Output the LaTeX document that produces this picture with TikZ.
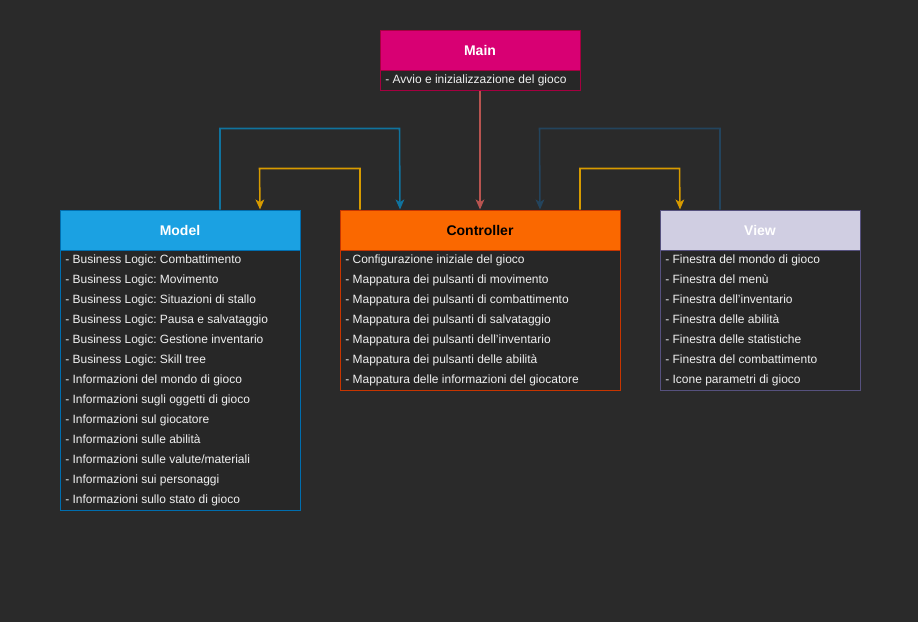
\documentclass[tikz,border=0pt]{standalone}
\usepackage{fontspec}
\setmainfont{Liberation Sans}
\usetikzlibrary{arrows.meta}
\frenchspacing
\definecolor{bg}{HTML}{2A2A2A}
\definecolor{bodyfill}{HTML}{272727}
\definecolor{txt}{HTML}{F0F0F0}
\definecolor{mainfill}{HTML}{D80073}
\definecolor{mainline}{HTML}{A50040}
\definecolor{modelfill}{HTML}{1BA1E2}
\definecolor{modelline}{HTML}{006EAF}
\definecolor{ctrlfill}{HTML}{FA6800}
\definecolor{ctrlline}{HTML}{C73500}
\definecolor{viewfill}{HTML}{D0CEE2}
\definecolor{viewline}{HTML}{56517E}
\definecolor{redline}{HTML}{B85450}
\definecolor{blueline}{HTML}{10739E}
\definecolor{darkblueline}{HTML}{23445D}
\definecolor{yellowline}{HTML}{D79B00}
\begin{document}
\begin{tikzpicture}[x=0.75pt,y=-0.75pt,
  header/.style={draw, line width=0.75pt, inner sep=0pt, anchor=north west, text=white,
    font=\fontsize{10.5}{12}\selectfont\bfseries},
  bodybox/.style={draw, line width=0.75pt, fill=bodyfill, inner sep=0pt, anchor=north west},
  rowtext/.style={anchor=west, inner sep=0pt, text height=8pt, text depth=2pt, text=txt,
    font=\fontsize{9}{11}\selectfont},
  conn/.style={line width=1.15pt, -{Stealth[length=7.5pt,width=6.5pt,inset=2pt]}}
]
\fill[bg] (0,0) rectangle (918,622);
\useasboundingbox (0,0) rectangle (918,622);
\begin{scope}[shift={(0.5,0.5)}]
% Main
\node[header, fill=mainfill, draw=mainline, minimum width=150pt, minimum height=30pt] (main) at (379,29) {Main};
\node[bodybox, draw=mainline, minimum width=150pt, minimum height=15pt] (mainb) at (379,69) {};
\node[rowtext] (main1) at (384.5,78.5) {- Avvio e inizializzazione del gioco};

% Model
\node[header, fill=modelfill, draw=modelline, minimum width=180pt, minimum height=30pt] (model) at (59,209) {Model};
\node[bodybox, draw=modelline, minimum width=180pt, minimum height=195pt] (modelb) at (59,249) {};
\foreach \t [count=\i] in {
  {- Business Logic: Combattimento},
  {- Business Logic: Movimento},
  {- Business Logic: Situazioni di stallo},
  {- Business Logic: Pausa e salvataggio},
  {- Business Logic: Gestione inventario},
  {- Business Logic: Skill tree},
  {- Informazioni del mondo di gioco},
  {- Informazioni sugli oggetti di gioco},
  {- Informazioni sul giocatore},
  {- Informazioni sulle abilità},
  {- Informazioni sulle valute/materiali},
  {- Informazioni sui personaggi},
  {- Informazioni sullo stato di gioco}}
  \node[rowtext] (model\i) at (64.5,{238.5+20*\i}) {\t};

% Controller
\node[header, fill=ctrlfill, draw=ctrlline, text=black, minimum width=210pt, minimum height=30pt] (ctrl) at (339,209) {Controller};
\node[bodybox, draw=ctrlline, minimum width=210pt, minimum height=105pt] (ctrlb) at (339,249) {};
\foreach \t [count=\i] in {
  {- Configurazione iniziale del gioco},
  {- Mappatura dei pulsanti di movimento},
  {- Mappatura dei pulsanti di combattimento},
  {- Mappatura dei pulsanti di salvataggio},
  {- Mappatura dei pulsanti dell'inventario},
  {- Mappatura dei pulsanti delle abilità},
  {- Mappatura delle informazioni del giocatore}}
  \node[rowtext] (ctrl\i) at (344.5,{238.5+20*\i}) {\t};

% View
\node[header, fill=viewfill, draw=viewline, text=white, minimum width=150pt, minimum height=30pt] (view) at (659,209) {View};
\node[bodybox, draw=viewline, minimum width=150pt, minimum height=105pt] (viewb) at (659,249) {};
\foreach \t [count=\i] in {
  {- Finestra del mondo di gioco},
  {- Finestra del menù},
  {- Finestra dell'inventario},
  {- Finestra delle abilità},
  {- Finestra delle statistiche},
  {- Finestra del combattimento},
  {- Icone parametri di gioco}}
  \node[rowtext] (view\i) at (664.5,{238.5+20*\i}) {\t};

% Connectors
\draw[conn, draw=redline] (mainb.south) -- (ctrl.north);
\draw[conn, draw=blueline] ([xshift=30pt]model.north) |- (399,128) -- ([xshift=-60pt]ctrl.north);
\draw[conn, draw=yellowline] ([xshift=-90pt]ctrl.north) |- (259,168) -- ([xshift=60pt]model.north);
\draw[conn, draw=darkblueline] ([xshift=-30pt]view.north) |- (539,128) -- ([xshift=45pt]ctrl.north);
\draw[conn, draw=yellowline] ([xshift=75pt]ctrl.north) |- (679,168) -- ([xshift=-60pt]view.north);
\end{scope}
\end{tikzpicture}
\end{document}
